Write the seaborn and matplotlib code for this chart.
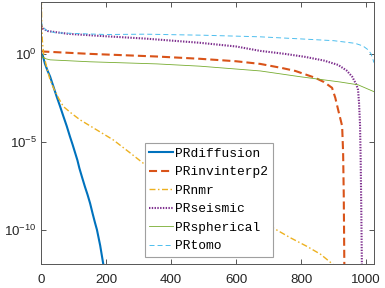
import numpy as np
import matplotlib
matplotlib.use("Agg")
import matplotlib.pyplot as plt
import seaborn as sns
from matplotlib.ticker import LogFormatterSciNotation, FixedLocator, NullLocator

# Singular value decay of the test problems (index, log10 of value)
diffusion_idx = [1, 5, 12, 20, 28, 38, 48, 58, 69, 79, 89, 97, 105, 112, 118, 126, 135,
                 143, 151, 159, 166, 172, 182, 191, 195]
diffusion_log = [0.0, -0.06, -0.55, -0.95, -1.29, -1.85, -2.42, -2.95, -3.56, -4.1, -4.7,
                 -5.15, -5.63, -6.05, -6.5, -7.0, -7.55, -8.0, -8.5, -9.1, -9.6, -10.0,
                 -10.9, -11.9, -12.3]

invinterp2_idx = [1, 10, 43, 150, 356, 489, 600, 674, 740, 782, 843, 870, 895, 905, 914,
                  926, 929, 931, 933]
invinterp2_log = [0.15, 0.13, 0.1, 0.0, -0.15, -0.28, -0.42, -0.57, -0.8, -0.97, -1.36,
                  -1.6, -1.93, -2.5, -3.2, -4.1, -5.6, -8.0, -12.5]

nmr_idx = [1, 2, 4, 8, 12, 20, 28, 40, 55, 69, 95, 120, 171, 222, 274, 320, 400, 500, 600,
           714, 766, 818, 860, 895, 920]
nmr_log = [3.5, 2.0, 0.8, 0.0, -0.34, -0.95, -1.48, -2.0, -2.55, -3.0, -3.4, -3.75, -4.32,
           -4.89, -5.63, -6.3, -7.0, -7.85, -8.75, -9.9, -10.45, -10.95, -11.4, -11.93,
           -12.3]

seismic_idx = [1, 5, 20, 83, 200, 320, 489, 600, 674, 750, 812, 870, 914, 940, 957, 970,
               975, 978, 981, 983, 985, 987]
seismic_log = [1.6, 1.45, 1.3, 1.14, 1.0, 0.87, 0.63, 0.42, 0.17, 0.0, -0.17, -0.38, -0.63,
               -0.95, -1.3, -1.76, -2.05, -2.8, -4.0, -6.0, -9.0, -12.5]

spherical_idx = [1, 5, 15, 28, 150, 356, 489, 674, 797, 920, 975, 1024]
spherical_log = [0.0, -0.2, -0.28, -0.34, -0.45, -0.57, -0.7, -0.97, -1.3, -1.6, -1.76,
                 -2.15]

tomo_idx = [1, 4, 15, 43, 200, 320, 500, 674, 800, 900, 966, 990, 1006, 1015, 1024]
tomo_log = [1.9, 1.6, 1.35, 1.2, 1.1, 1.12, 1.06, 0.97, 0.85, 0.75, 0.6, 0.45, 0.23, 0.0,
            -0.5]

labels = ['PRdiffusion', 'PRinvinterp2', 'PRnmr', 'PRseismic', 'PRspherical', 'PRtomo']
colors = ['#0072BD', '#D95319', '#EDB120', '#7E2F8E', '#77AC30', '#4DBEEE']

plt.rcParams['font.family'] = ['Liberation Sans', 'DejaVu Sans']
plt.rcParams['lines.scale_dashes'] = False

fig = plt.figure(figsize=(3.85, 2.88), dpi=100)
ax = fig.add_axes([41 / 385, 24 / 288, 333 / 385, 262 / 288])

series = [
    (diffusion_idx, diffusion_log, 1.5, (None, None)),
    (invinterp2_idx, invinterp2_log, 1.5, (0, (5.8, 2.9))),
    (nmr_idx, nmr_log, 1.0, (0, (4.3, 1.8, 1.1, 1.8))),
    (seismic_idx, seismic_log, 1.5, (0, (1.0, 1.0))),
    (spherical_idx, spherical_log, 0.6, (None, None)),
    (tomo_idx, tomo_log, 0.7, (0, (3.6, 2.2))),
]

for (idx, lg, lw, ls), lab, col in zip(series, labels, colors):
    vals = 10.0 ** np.array(lg)
    kw = {} if ls[0] is None else {'linestyle': ls}
    sns.lineplot(x=idx, y=vals, ax=ax, color=col, linewidth=lw, label=lab,
                 sort=False, estimator=None, **kw)

ax.set_yscale('log')
ax.set_xlim(0, 1024)
ax.set_ylim(10 ** -11.95, 10 ** 2.95)
ax.xaxis.set_major_locator(FixedLocator([0, 200, 400, 600, 800, 1000]))
ax.yaxis.set_major_locator(FixedLocator([1e-10, 1e-5, 1e0]))
ax.yaxis.set_minor_locator(NullLocator())
ax.yaxis.set_major_formatter(LogFormatterSciNotation())

for s in ax.spines.values():
    s.set_color('#555555')
    s.set_linewidth(0.7)
ax.tick_params(direction='in', length=3.5, width=0.7, color='#555555',
               labelcolor='#262626', labelsize=9.6, top=True, right=True)
ax.tick_params(axis='x', pad=7.5)
ax.tick_params(axis='y', pad=3)

leg = ax.legend(loc='lower left', bbox_to_anchor=(0.312, 0.027), fancybox=False,
                framealpha=1, edgecolor='#a0a0a0', borderpad=0.35, labelspacing=0.5,
                handlelength=1.8, handletextpad=0.2, borderaxespad=0,
                prop={'family': 'Liberation Mono', 'size': 9.3})
leg.get_frame().set_linewidth(0.8)

fig.savefig('out.png', dpi=100)
